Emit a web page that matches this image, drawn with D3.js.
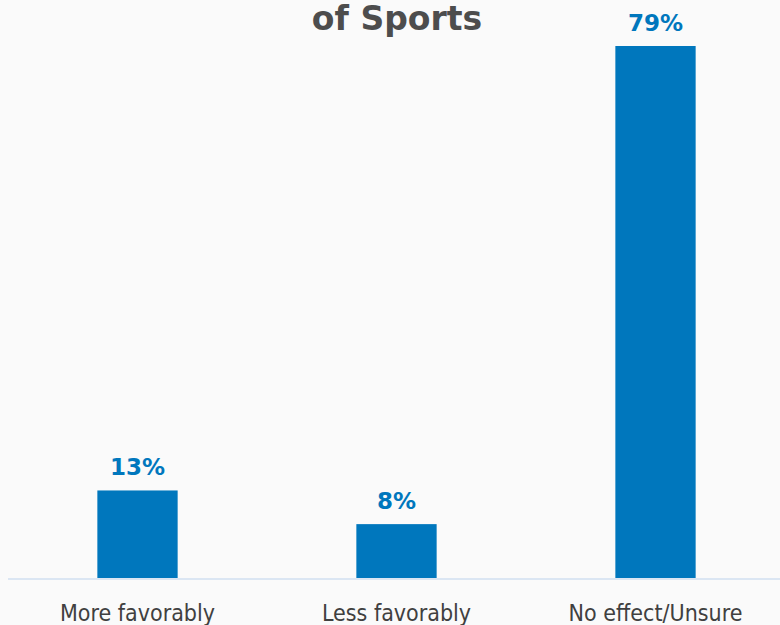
<!DOCTYPE html>
<html>
<head>
<meta charset="utf-8">
<script src="https://cdn.jsdelivr.net/npm/d3@7"></script>
<style>
  html, body { margin: 0; padding: 0; background: #fafafa; }
  svg { display: block; }
</style>
</head>
<body>
<svg id="chart" width="780" height="625"></svg>
<script>
// Response categories and the share of respondents for each
const categories = ["More favorably", "Less favorably", "No effect/Unsure"];
const values = [13, 8, 79];
const valueLabels = ["13%", "8%", "79%"];
const titleLines = ["of Sports"];

const W = 780, H = 625;
const baseY = 578;

const svg = d3.select("#chart");

svg.append("rect").attr("width", W).attr("height", H).attr("fill", "#fafafa");

const x = d3.scaleBand()
  .domain(categories)
  .range([8, 785])
  .paddingInner(0.69)
  .paddingOuter(0.345);

const y = d3.scaleLinear()
  .domain([0, 79])
  .range([baseY, 46]);

// Title (second line visible at top)
svg.append("text")
  .attr("x", 397)
  .attr("y", 30)
  .attr("text-anchor", "middle")
  .attr("font-family", "DejaVu Sans, Verdana, sans-serif")
  .attr("font-weight", "bold")
  .attr("font-size", 33)
  .attr("fill", "#4d4d4d")
  .text(titleLines[0]);

// Bars
svg.append("g").selectAll("rect")
  .data(values)
  .join("rect")
  .attr("x", (d, i) => x(categories[i]))
  .attr("width", x.bandwidth())
  .attr("y", d => y(d))
  .attr("height", d => baseY - y(d))
  .attr("fill", "#0077bd");

// Value labels above each bar
svg.append("g").selectAll("text")
  .data(values)
  .join("text")
  .attr("x", (d, i) => x(categories[i]) + x.bandwidth() / 2)
  .attr("y", d => y(d) - 15)
  .attr("text-anchor", "middle")
  .attr("font-family", "DejaVu Sans, Verdana, sans-serif")
  .attr("font-weight", "bold")
  .attr("font-size", 23)
  .attr("fill", "#0077bd")
  .text((d, i) => valueLabels[i]);

// Category axis
const axis = svg.append("g")
  .attr("transform", `translate(0,${baseY})`)
  .call(d3.axisBottom(x).tickSize(0).tickPadding(0));

axis.select(".domain").remove();
axis.append("line")
  .attr("x1", 8).attr("x2", W)
  .attr("y1", 1).attr("y2", 1)
  .attr("stroke", "#dbe6f3")
  .attr("stroke-width", 2);

axis.selectAll(".tick text")
  .attr("y", 43)
  .attr("dy", 0)
  .attr("font-family", "DejaVu Sans Condensed, DejaVu Sans, sans-serif")
  .attr("font-size", 23)
  .attr("fill", "#404040");
</script>
</body>
</html>
